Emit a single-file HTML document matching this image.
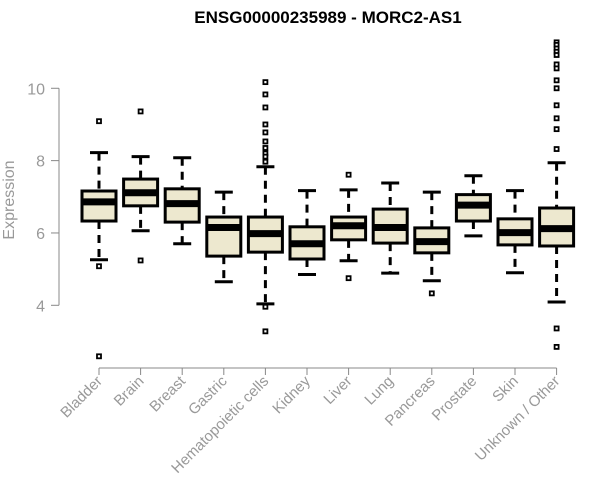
<!DOCTYPE html>
<html><head><meta charset="utf-8"><style>
html,body{margin:0;padding:0;background:#fff}
svg{display:block;font-family:"Liberation Sans",Arial,sans-serif}
</style></head><body>
<svg id="chart" width="600" height="500" viewBox="0 0 600 500">
<text x="328" y="23" text-anchor="middle" font-weight="bold" font-size="17" fill="#000">ENSG00000235989 - MORC2-AS1</text>
<text transform="translate(14,200) rotate(-90)" text-anchor="middle" font-size="16" fill="#999">Expression</text>
<g id="axes"></g><g id="boxes"></g>
</svg>
<script>
const categories=["Bladder","Brain","Breast","Gastric","Hematopoietic cells","Kidney","Liver","Lung","Pancreas","Prostate","Skin","Unknown / Other"];
const whiskerLow=[5.26,6.06,5.70,4.65,4.04,4.85,5.23,4.89,4.68,5.92,4.90,4.09];
const q1=[6.33,6.75,6.30,5.36,5.47,5.28,5.81,5.72,5.45,6.33,5.67,5.64];
const medians=[6.86,7.11,6.81,6.15,5.98,5.70,6.20,6.15,5.76,6.77,6.01,6.12];
const q3=[7.16,7.49,7.22,6.44,6.44,6.17,6.44,6.66,6.14,7.06,6.39,6.69];
const whiskerHigh=[8.22,8.11,8.08,7.13,7.83,7.17,7.19,7.38,7.13,7.58,7.17,7.94];
const outliers=[[9.09,5.08,2.59],[9.36,5.24],[],[],[10.17,9.83,9.47,9.0,8.78,8.53,8.35,8.2,8.11,7.97,3.96,3.28],[],[7.61,4.75],[],[4.33],[],[],[11.27,11.2,11.1,11.01,10.92,10.66,10.55,10.22,10.0,9.53,9.17,8.87,8.32,3.36,2.85]];
const yTicks=[4,6,8,10];
const NS="http://www.w3.org/2000/svg";
function y(v){return 305.3-(v-4)*36.17;}
function x(i){return 99+i*41.6;}
function mk(tag,attrs,parent){const e=document.createElementNS(NS,tag);for(const k in attrs)e.setAttribute(k,attrs[k]);parent.appendChild(e);return e;}
const axes=document.getElementById('axes'),boxes=document.getElementById('boxes');
const ya=mk('line',{x1:59,x2:59,y1:y(10),y2:y(4),stroke:'#888'},axes);


yTicks.forEach(t=>{
 const l=mk('line',{x1:51,x2:59,y1:y(t),y2:y(t),stroke:'#888'},axes);
 
 
 const tx=mk('text',{x:45,y:y(t)+6,'text-anchor':'end','font-size':16,fill:'#999'},axes);
 tx.textContent=t;
 
 
});
const xa=mk('line',{x1:x(0),x2:x(categories.length-1),y1:368,y2:368,stroke:'#888'},axes);


categories.forEach((c,i)=>{
 const cx=x(i),w=17;
 const tk=mk('line',{x1:cx,x2:cx,y1:368,y2:375,stroke:'#888'},axes);
 
 
 const lb=mk('text',{transform:`translate(${cx+4},${382}) rotate(-45)`,'text-anchor':'end','font-size':15,fill:'#999'},axes);
 lb.textContent=c;
 
 
 const g=mk('g',{},boxes);
 
 
 mk('line',{x1:cx,x2:cx,y1:y(whiskerHigh[i]),y2:y(q3[i]),stroke:'#000','stroke-width':3,'stroke-dasharray':'8,6'},g);
 mk('line',{x1:cx,x2:cx,y1:y(q1[i]),y2:y(whiskerLow[i]),stroke:'#000','stroke-width':3,'stroke-dasharray':'8,6'},g);
 mk('line',{x1:cx-9,x2:cx+9,y1:y(whiskerHigh[i]),y2:y(whiskerHigh[i]),stroke:'#000','stroke-width':3},g);
 mk('line',{x1:cx-9,x2:cx+9,y1:y(whiskerLow[i]),y2:y(whiskerLow[i]),stroke:'#000','stroke-width':3},g);
 mk('rect',{x:cx-w,y:y(q3[i]),width:2*w,height:y(q1[i])-y(q3[i]),fill:'#ede8cf',stroke:'#000','stroke-width':3},g);
 mk('line',{x1:cx-w,x2:cx+w,y1:y(medians[i]),y2:y(medians[i]),stroke:'#000','stroke-width':7},g);
 outliers[i].forEach(o=>{
  const p=mk('rect',{x:cx-2,y:y(o)-2,width:4,height:4,fill:'#fff',stroke:'#000','stroke-width':1.8},g);
  
  
 });
});
</script>
</body></html>
